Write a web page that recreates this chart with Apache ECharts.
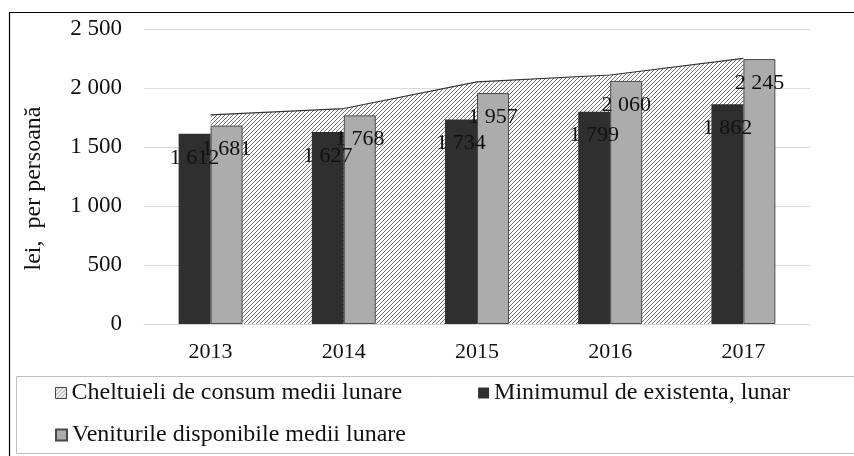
<!DOCTYPE html>
<html>
<head>
<meta charset="utf-8">
<script src="https://cdn.jsdelivr.net/npm/echarts@6/dist/echarts.min.js"></script>
<style>
html,body{margin:0;padding:0;background:#fff;}
#chart{width:854px;height:456px;}
</style>
</head>
<body>
<div id="chart"></div>
<script>
const years = ['2013', '2014', '2015', '2016', '2017'];
const cheltuieli = [1772, 1826, 2052, 2110, 2251];
const minimum = [1612, 1627, 1734, 1799, 1862];
const venituri = [1681, 1768, 1957, 2060, 2245];
const yTicks = [0, 500, 1000, 1500, 2000, 2500];

const nameA = 'Cheltuieli de consum medii lunare';
const nameB = 'Minimumul de existenta, lunar';
const nameC = 'Veniturile disponibile medii lunare';

function fmt(v) { return String(v).replace(/\B(?=(\d{3})+(?!\d))/g, ' '); }

function hatch() {
  const c = document.createElement('canvas');
  c.width = 4; c.height = 4;
  const ctx = c.getContext('2d');
  ctx.fillStyle = '#ffffff';
  ctx.fillRect(0, 0, 4, 4);
  ctx.strokeStyle = '#666666';
  ctx.lineWidth = 0.9;
  ctx.beginPath();
  ctx.moveTo(0, 4); ctx.lineTo(4, 0);
  ctx.moveTo(-1, 1); ctx.lineTo(1, -1);
  ctx.moveTo(3, 5); ctx.lineTo(5, 3);
  ctx.stroke();
  return { image: c, repeat: 'repeat' };
}
const pattern = hatch();
const FONT = 'Liberation Serif';
const legText1 = { fontFamily: 'Times New Roman', fontSize: 24, color: '#111' };
const legText2 = { fontFamily: "'Liberation Serif', serif", fontSize: 24, color: '#111' };

const chart = echarts.init(document.getElementById('chart'), null, { renderer: 'canvas' });
chart.setOption({
  animation: false,
  backgroundColor: '#ffffff',
  textStyle: { fontFamily: FONT },
  graphic: [
    { type: 'rect', shape: { x: 9.5, y: 12.5, width: 900, height: 500 }, style: { fill: 'none', stroke: '#000', lineWidth: 1.2 }, z: 0 },
    { type: 'rect', shape: { x: 16.5, y: 376.5, width: 900, height: 77 }, style: { fill: 'none', stroke: '#bfbfbf', lineWidth: 1 }, z: 0 }
  ],
  grid: { left: 144, right: 44, top: 29, bottom: 132, containLabel: false },
  legend: [
    {
      left: 55, top: 381, padding: 0, itemWidth: 11, itemHeight: 11, itemGap: 76,
      textStyle: legText1,
      data: [
        { name: nameA, icon: 'rect', itemStyle: { color: pattern, borderColor: '#444', borderWidth: 1 } },
        { name: nameB, icon: 'rect' }
      ]
    },
    {
      left: 55, top: 423, padding: 0, itemWidth: 11, itemHeight: 11,
      textStyle: legText2,
      data: [{ name: nameC, icon: 'rect' }]
    }
  ],
  xAxis: {
    type: 'category', data: years,
    axisLine: { lineStyle: { color: '#d9d9d9', width: 1 } },
    axisTick: { show: false },
    axisLabel: { fontFamily: FONT, fontSize: 22, color: '#111', margin: 17 }
  },
  yAxis: {
    type: 'value', min: 0, max: 2500, interval: 500,
    name: 'lei,  per persoană', nameLocation: 'middle', nameGap: 98, nameRotate: 90,
    nameTextStyle: { fontFamily: FONT, fontSize: 24, color: '#111', padding: [0, 24, 0, 0] },
    axisLine: { show: false }, axisTick: { show: false },
    axisLabel: {
      fontFamily: FONT, fontSize: 23, color: '#111', margin: 22,
      formatter: function (v) { return yTicks.indexOf(v) >= 0 ? fmt(v) : ''; }
    },
    splitLine: { lineStyle: { color: '#d9d9d9', width: 1 } }
  },
  series: [
    {
      name: nameA, type: 'line', data: cheltuieli, symbol: 'none', z: 1,
      itemStyle: { color: '#666' },
      lineStyle: { color: '#333', width: 1.2 },
      areaStyle: { color: pattern, opacity: 1 }
    },
    {
      name: nameB, type: 'bar', data: minimum, barWidth: '24%', barGap: '0%', z: 3,
      itemStyle: { color: '#2f2f2f', borderColor: '#2f2f2f', borderWidth: 0 },
      label: { show: true, position: 'insideTop', distance: 13, fontFamily: FONT, fontSize: 22, color: '#111', formatter: function (p) { return fmt(p.value); } }
    },
    {
      name: nameC, type: 'bar', data: venituri, barWidth: '24%', barGap: '0%', z: 3,
      itemStyle: { color: '#acacac', borderColor: '#4a4a4a', borderWidth: 1 },
      label: { show: true, position: 'insideTop', distance: 13, fontFamily: FONT, fontSize: 22, color: '#111', formatter: function (p) { return fmt(p.value); } }
    }
  ]
});
</script>
</body>
</html>
